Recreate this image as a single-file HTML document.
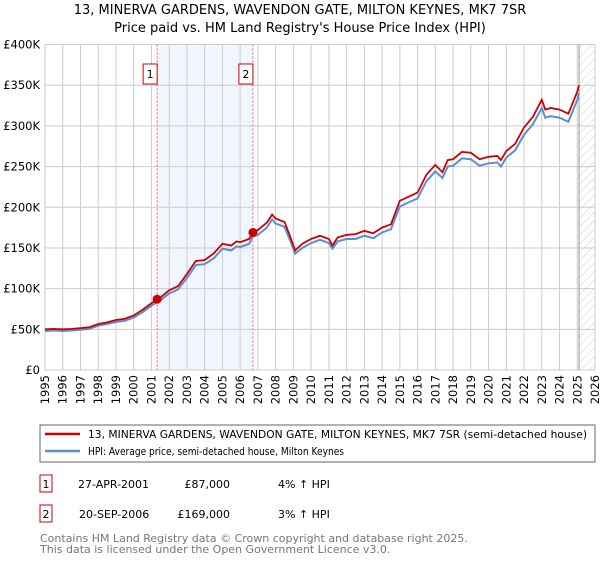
<!DOCTYPE html>
<html><head><meta charset="utf-8"><style>
body{margin:0;background:#fff;font-family:"Liberation Sans","DejaVu Sans",sans-serif;}
svg text{font-family:"DejaVu Sans","Liberation Sans",sans-serif;}
</style></head><body>
<svg id="chart" width="600" height="560" xmlns="http://www.w3.org/2000/svg">
<defs><pattern id="hatch" width="6" height="6" patternUnits="userSpaceOnUse" patternTransform="rotate(45)"><line x1="0" y1="0" x2="0" y2="6" stroke="#ccc" stroke-width="1"/></pattern></defs>
<text x="300" y="14" text-anchor="middle" font-size="13" fill="#000">13, MINERVA GARDENS, WAVENDON GATE, MILTON KEYNES, MK7 7SR</text>
<text x="300" y="32" text-anchor="middle" font-size="13" fill="#000">Price paid vs. HM Land Registry's House Price Index (HPI)</text>
<g id="plot"></g>
<g>
<rect x="40" y="425" width="555" height="37" fill="#fff" stroke="#666"/>
<line x1="45" y1="434" x2="80" y2="434" stroke="#cc0000" stroke-width="2.5"/>
<text x="88" y="438" font-size="11" textLength="499" lengthAdjust="spacingAndGlyphs">13, MINERVA GARDENS, WAVENDON GATE, MILTON KEYNES, MK7 7SR (semi-detached house)</text>
<line x1="45" y1="451" x2="80" y2="451" stroke="#5b8fd4" stroke-width="2.5"/>
<text x="88" y="455" font-size="11" textLength="256" lengthAdjust="spacingAndGlyphs">HPI: Average price, semi-detached house, Milton Keynes</text>
</g>
<g font-size="11">
<rect x="40" y="475" width="12" height="17" fill="#fff" stroke="#cc0000"/>
<text x="46" y="488" text-anchor="middle">1</text>
<text x="78" y="488">27-APR-2001</text>
<text x="230" y="488" text-anchor="end">£87,000</text>
<text x="278" y="488">4% ↑ HPI</text>
<rect x="40" y="505" width="12" height="17" fill="#fff" stroke="#cc0000"/>
<text x="46" y="518" text-anchor="middle">2</text>
<text x="79" y="518">20-SEP-2006</text>
<text x="230" y="518" text-anchor="end">£169,000</text>
<text x="278" y="518">3% ↑ HPI</text>
</g>
<text x="40" y="542" font-size="11" fill="#777">Contains HM Land Registry data © Crown copyright and database right 2025.</text>
<text x="40" y="553" font-size="11" fill="#777">This data is licensed under the Open Government Licence v3.0.</text>
</svg>
<script>
const dates=[1995,1995.5,1996,1996.5,1997,1997.5,1998,1998.5,1999,1999.5,2000,2000.5,2001,2001.32,2001.5,2002,2002.5,2003,2003.5,2004,2004.5,2005,2005.5,2005.8,2006,2006.5,2006.72,2007,2007.5,2007.8,2008,2008.5,2008.8,2009.1,2009.5,2010,2010.5,2011,2011.2,2011.5,2012,2012.5,2013,2013.5,2014,2014.5,2015,2015.5,2016,2016.5,2017,2017.4,2017.7,2018,2018.5,2019,2019.5,2020,2020.5,2020.7,2021,2021.5,2022,2022.5,2023,2023.2,2023.5,2024,2024.5,2025,2025.1];
const hpiValues=[48,48.5,48,48.5,49.5,50.5,54.5,56.5,59,60.5,64.5,71,79,83.5,85.5,94,99,113,129,130,137,149,147,152,151,155,164,166,175,185,180,176,160,143,150,156,160,156,149,158,161,161,165,162,169,173,201,206,211,232,244,236,250,251,260,259,251,254,255,250,261,270,289,302,322,310,312,310,305,332,340];
const propValues=[50,50.5,50,50.5,51.5,52.5,56.5,58.5,61.5,63,67,74,82,87,89,98,103,118,134,135,143,155,153,158,157,161,169,172,181,191,186,182,165,147,155,161,165,161,153,163,166,167,171,168,175,179,208,213,218,240,252,243,258,259,268,267,259,262,263,258,269,278,298,311,332,320,322,320,315,342,350];
const yTicks=[0,50,100,150,200,250,300,350,400];
const yTickLabels=["£0","£50K","£100K","£150K","£200K","£250K","£300K","£350K","£400K"];
const xTicks=[1995,1996,1997,1998,1999,2000,2001,2002,2003,2004,2005,2006,2007,2008,2009,2010,2011,2012,2013,2014,2015,2016,2017,2018,2019,2020,2021,2022,2023,2024,2025,2026];
const saleDates=[2001.32,2006.72];
const salePrices=[87,169];
const saleLabels=["1","2"];
const dataEnd=2025.1;

const L=45,R=595,T=44.5,B=370,X0=1995,X1=2026,YMAX=400;
const x=v=>L+(v-X0)/(X1-X0)*(R-L);
const y=v=>B-v/YMAX*(B-T);
const NS="http://www.w3.org/2000/svg";
const g=document.getElementById('plot');
function mk(tag,attrs,parent){const e=document.createElementNS(NS,tag);for(const k in attrs)e.setAttribute(k,attrs[k]);(parent||g).appendChild(e);return e;}

const shade=mk('rect',{x:x(saleDates[0]),y:T,width:x(saleDates[1])-x(saleDates[0]),height:B-T,fill:'#eef3fd',opacity:0.8});


const hatch=mk('rect',{x:x(dataEnd),y:T,width:R-x(dataEnd),height:B-T,fill:'url(#hatch)'});



xTicks.forEach(t=>{
  const l=mk('line',{x1:x(t),x2:x(t),y1:T,y2:B,stroke:'#ccc','stroke-width':1});
  
  
  const tx=mk('text',{x:0,y:0,'font-size':11.5,'text-anchor':'end',transform:`translate(${x(t)+4},${B+5}) rotate(-90)`});
  tx.textContent=t;
  
  
});
yTicks.forEach((t,i)=>{
  const l=mk('line',{x1:L,x2:R,y1:y(t),y2:y(t),stroke:'#ccc','stroke-width':1});
  
  
  const tx=mk('text',{x:L-5,y:y(t)+4,'font-size':11.5,'text-anchor':'end'});
  tx.textContent=yTickLabels[i];
  
  
});
const endLine=mk('line',{x1:x(dataEnd),x2:x(dataEnd),y1:T,y2:B,stroke:'#999','stroke-width':1});



saleDates.forEach((d,i)=>{
  const l=mk('line',{x1:x(d),x2:x(d),y1:T,y2:B,stroke:'#f06060','stroke-width':1,'stroke-dasharray':'2,2'});
  
  
  const r=mk('rect',{x:x(d)-14,y:64,width:14,height:20,fill:'#fff',stroke:'#cc0000'});
  
  
  const t=mk('text',{x:x(d)-7,y:78,'font-size':11,'text-anchor':'middle'});
  t.textContent=saleLabels[i];
  
  
});

const hp=mk('polyline',{points:dates.map((d,i)=>x(d)+','+y(hpiValues[i])).join(' '),fill:'none',stroke:'#5b8fd4','stroke-width':2});


const pp=mk('polyline',{points:dates.map((d,i)=>x(d)+','+y(propValues[i])).join(' '),fill:'none',stroke:'#cc0000','stroke-width':1.8});


saleDates.forEach((d,i)=>{
  const c=mk('circle',{cx:x(d),cy:y(salePrices[i]),r:4.5,fill:'#cc0000'});
  
  
});
</script>
</body></html>
